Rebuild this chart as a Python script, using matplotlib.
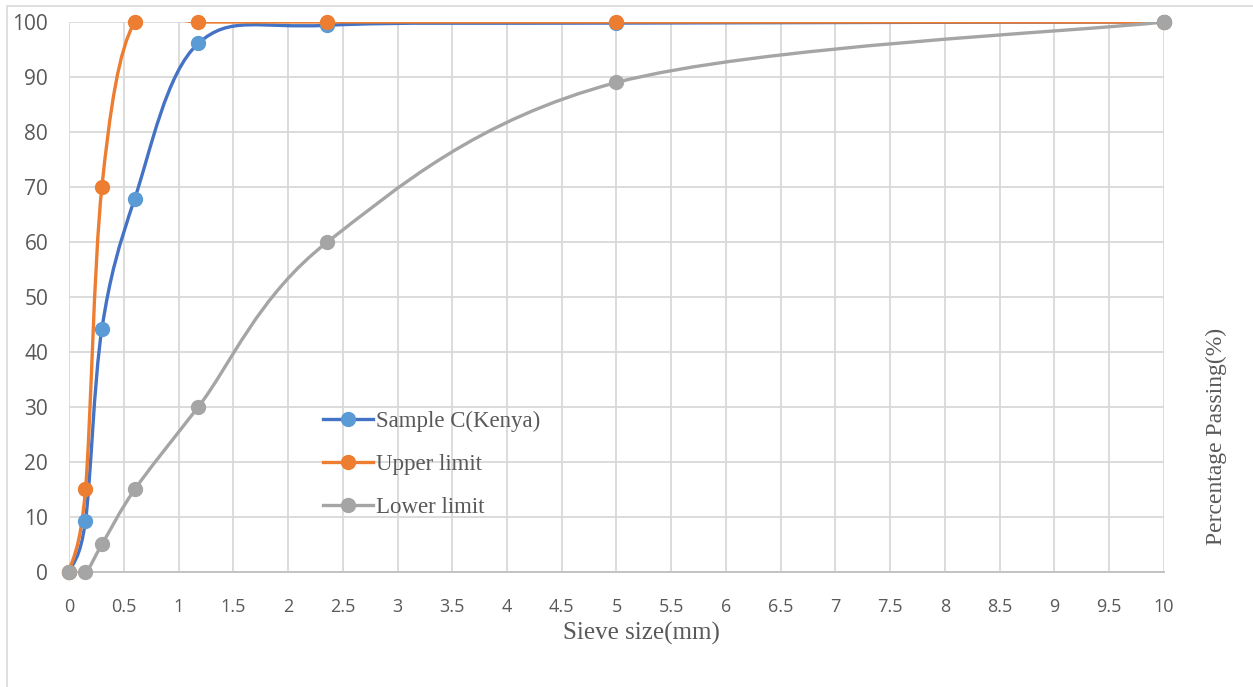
import numpy as np
import matplotlib.pyplot as plt
from matplotlib.path import Path
from matplotlib.patches import PathPatch, Rectangle
from matplotlib.lines import Line2D

# sieve sizes (mm) and percentage passing
sieve = [0, 0.15, 0.3, 0.6, 1.18, 2.36, 5, 10]
sample_c = [0, 9.3, 44.2, 67.9, 96.1, 99.4, 99.8, 100]
upper = [0, 15, 70, 100, 100, 100, 100, 100]
lower = [0, 0, 5, 15, 30, 60, 89, 100]


def smooth_path(x, y):
    # cubic bezier through the points, catmull-rom style control points
    p = np.column_stack([x, y]).astype(float)
    verts = [p[0]]
    codes = [Path.MOVETO]
    n = len(p)
    for i in range(n - 1):
        p0 = p[i - 1] if i > 0 else p[i]
        p3 = p[i + 2] if i + 2 < n else p[i + 1]
        c1 = p[i] + (p[i + 1] - p0) / 6
        c2 = p[i + 1] - (p3 - p[i]) / 6
        verts += [c1, c2, p[i + 1]]
        codes += [Path.CURVE4] * 3
    return Path(verts, codes)


series = [
    ("Sample C(Kenya)", sample_c, "#4472C4", "#5B9BD5"),
    ("Upper limit", upper, "#ED7D31", "#ED7D31"),
    ("Lower limit", lower, "#A5A5A5", "#A5A5A5"),
]

fig = plt.figure(figsize=(12.53, 6.87), dpi=100)
ax = fig.add_axes([0.0551, 0.1674, 0.8738, 0.8006])

handles = []
for name, vals, lc, mc in series:
    patch = PathPatch(smooth_path(sieve, vals), fill=False, ec=lc, lw=2.4,
                      capstyle="round", joinstyle="round", zorder=3)
    ax.add_patch(patch)
    ax.plot(sieve, vals, ls="none", marker="o", ms=10, color=mc,
            clip_on=False, zorder=4)
    handles.append(Line2D([], [], color=lc, lw=2.4, marker="o", ms=10,
                          markerfacecolor=mc, markeredgecolor=mc))

ax.set_xlim(0, 10)
ax.set_ylim(0, 100)
ax.set_xticks(np.arange(0, 10.01, 0.5))
ax.set_xticklabels(["%g" % t for t in np.arange(0, 10.01, 0.5)])
ax.set_yticks(range(0, 101, 10))
ax.grid(True, color="#D9D9D9", lw=1.3)
ax.set_axisbelow(True)
for s in ["top", "right", "left"]:
    ax.spines[s].set_visible(False)
ax.spines["bottom"].set_color("#BFBFBF")
ax.spines["bottom"].set_linewidth(1.3)
ax.tick_params(length=0, labelcolor="#595959")
ax.tick_params(axis="x", pad=19, labelsize=13)
ax.tick_params(axis="y", pad=15, labelsize=15)
for lbl in ax.get_xticklabels() + ax.get_yticklabels():
    lbl.set_fontfamily("Open Sans")

fig.text(0.512, 0.078, "Sieve size(mm)", ha="center", va="center",
         family="Liberation Serif", fontsize=18, color="#595959")
fig.text(0.971, 0.364, "Percentage Passing(%)", ha="center", va="center",
         rotation=90, family="Liberation Serif", fontsize=17, color="#595959")

leg = fig.legend(handles, [s[0] for s in series], loc="upper left",
                 bbox_to_anchor=(0.241, 0.432), frameon=False,
                 prop={"family": "Liberation Serif", "size": 16.5},
                 handlelength=2.2, handletextpad=0.15, labelspacing=0.95)
for t in leg.get_texts():
    t.set_color("#595959")

# outer chart border
fig.add_artist(Rectangle((0.0056, -0.2), 1.5, 1.191, fill=False,
                         ec="#D9D9D9", lw=1.2, transform=fig.transFigure))

fig.savefig("out.png", dpi=100)
